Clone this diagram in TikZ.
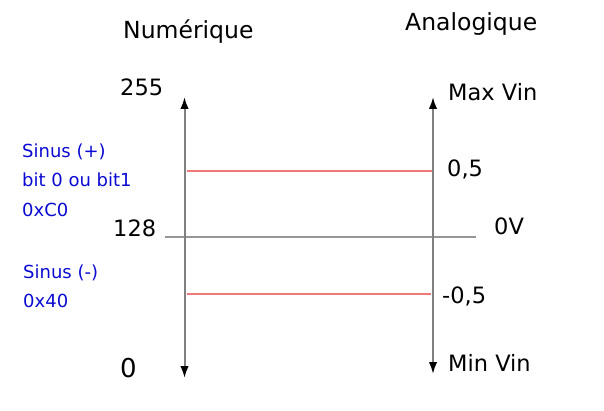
\documentclass[tikz,border=0pt]{standalone}
\usepackage{fontspec}
\setmainfont{DejaVu Sans}
\usetikzlibrary{arrows.meta}
\definecolor{axisgray}{RGB}{128,128,128}
\definecolor{zerogray}{RGB}{150,150,150}
\definecolor{levelred}{RGB}{240,120,120}
\definecolor{labelblue}{RGB}{10,10,210}
\tikzset{
  lbl/.style={anchor=base west, inner sep=0pt, font=\fontsize{22.5}{27}\selectfont},
  head/.style={anchor=base west, inner sep=0pt, font=\fontsize{23.5}{28}\selectfont},
  note/.style={anchor=base west, inner sep=0pt, text=labelblue, font=\fontsize{18}{22}\selectfont},
  axisline/.style={draw=axisgray, line width=2pt, {Latex[length=12pt,width=8.5pt,color=black]}-{Latex[length=12pt,width=8.5pt,color=black]}},
  zeroline/.style={draw=zerogray, line width=1.5pt},
  levelline/.style={draw=levelred, line width=1.5pt},
}
\begin{document}
\begin{tikzpicture}[x=1pt,y=-1pt]
\useasboundingbox (0,0) rectangle (604,411);
% headers
\node[head] (num) at (123,39) {Numérique};
\node[head] (ana) at (405,31) {Analogique};
% axis ends
\coordinate (ltop) at (184.5,97);
\coordinate (lbot) at (184.5,378);
\coordinate (rtop) at (433,97);
\coordinate (rbot) at (433,374);
% horizontal lines
\coordinate (zl) at (165,237);
\coordinate (zr) at (476,237);
\coordinate (pl) at (187,171);
\coordinate (pr) at (432,171);
\coordinate (ml) at (187,294);
\coordinate (mr) at (431,294);
\draw[zeroline] (zl) -- (zr);
\draw[levelline] (pl) -- (pr);
\draw[levelline] (ml) -- (mr);
\draw[axisline] (lbot) -- (ltop);
\draw[axisline] (rbot) -- (rtop);
% left labels
\node[lbl] (v255) at (120,96) {255};
\node[lbl] (v128) at (113,237) {128};
\node[anchor=base west, inner sep=0pt, font=\fontsize{26}{31}\selectfont] (v0) at (120,377) {0};
% right labels
\node[lbl] (maxv) at (448,101) {Max Vin};
\node[lbl] (p05) at (447,177) {0,5};
\node[lbl] (zv) at (494,235) {0V};
\node[lbl] (m05) at (442,303) {-0,5};
\node[lbl] (minv) at (448,371) {Min Vin};
% blue notes
\node[note] (s1) at (22,158) {Sinus (+)};
\node[note] (s2) at (22,187) {bit 0 ou bit1};
\node[note] (s3) at (22,217) {0xC0};
\node[note] (s4) at (23,278) {Sinus (-)};
\node[note] (s5) at (23,307) {0x40};
\end{tikzpicture}
\end{document}
